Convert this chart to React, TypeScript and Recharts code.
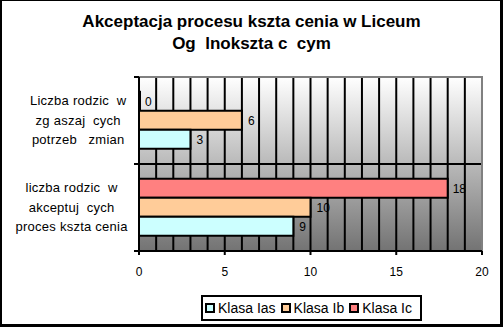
import React from 'react';
import { BarChart, Bar, XAxis, YAxis, CartesianGrid, LabelList, Legend, ReferenceArea } from 'recharts';

const categories = [
  'Liczba rodzic  w\nzg aszaj  cych\npotrzeb   zmian',
  'liczba rodzic  w\nakceptuj  cych\nproces kszta cenia',
];
const klasaIas = [3, 9];
const klasaIb = [6, 10];
const klasaIc = [0, 18];
const seriesNames = ['Klasa Ias', 'Klasa Ib', 'Klasa Ic'];
const seriesColors = ['#CCFFFF', '#FFCC99', '#FF8080'];
const xTicks = [0, 5, 10, 15, 20];
const gridTicks = [1, 2, 3, 4, 5, 6, 7, 8, 9, 10, 11, 12, 13, 14, 15, 16, 17, 18, 19];
const titleLines = ['Akceptacja procesu kszta cenia w Liceum', 'Og  lnokszta c  cym'];

const data = categories.map((c, i) => ({ name: c, ias: klasaIas[i], ib: klasaIb[i], ic: klasaIc[i] }));

const FONT = '"Liberation Sans", Arial, sans-serif';

const YTick = (props: any) => {
  const { x, y, payload, height, visibleTicksCount, index } = props;
  const lines: string[] = String(payload.value).split('\n');
  const maxLen = Math.max(...lines.map((l) => l.length));
  const cx = x - (maxLen * 6.6) / 2;
  const lh = 19.5;
  const axisX = x + 8;
  const band = height && visibleTicksCount ? height / visibleTicksCount : 0;
  const marks: number[] = [];
  if (band) {
    marks.push(y - band / 2);
    if (index === visibleTicksCount - 1) marks.push(y + band / 2);
  }
  return (
    <g>
      {marks.map((my, i) => (
        <line key={'m' + i} x1={axisX - 5} x2={axisX} y1={my} y2={my} stroke="#000" strokeWidth={2} />
      ))}
      {lines.map((l, i) => (
        <text
          key={i}
          x={cx}
          y={y + (i - (lines.length - 1) / 2) * lh}
          dy={4}
          textAnchor="middle"
          fontSize={13}
          fontFamily={FONT}
          fill="#000"
          letterSpacing={0.25}
          style={{ whiteSpace: 'pre' }}
        >
          {l}
        </text>
      ))}
    </g>
  );
};

const LegendContent = () => (
  <div
    style={{
      boxSizing: 'border-box',
      width: 221,
      height: 26,
      border: '2px solid #000',
      background: '#fff',
      display: 'flex',
      alignItems: 'center',
      paddingLeft: 2,
      fontFamily: FONT,
      fontSize: 14,
      color: '#000',
      whiteSpace: 'nowrap',
    }}
  >
    {seriesNames.map((n, i) => (
      <span key={n} style={{ display: 'flex', alignItems: 'center', marginRight: 5 }}>
        <span
          style={{
            display: 'inline-block',
            boxSizing: 'border-box',
            width: 10,
            height: 10,
            background: seriesColors[i],
            border: '2px solid #000',
            marginRight: 3,
          }}
        />
        {n}
      </span>
    ))}
  </div>
);

export default function App() {
  return (
    <div style={{ position: 'absolute', left: 0, top: 0, width: 503, height: 327, background: '#fff' }}>
      <BarChart
        width={503}
        height={327}
        data={data}
        layout="vertical"
        margin={{ top: 77, right: 21, bottom: 46, left: 0 }}
        barCategoryGap="17%"
        barGap={0}
      >
        <defs>
          <linearGradient id="plotBg" x1="0" y1="0" x2="0" y2="1">
            <stop offset="0%" stopColor="#FFFFFF" />
            <stop offset="100%" stopColor="#737373" />
          </linearGradient>
        </defs>
        <CartesianGrid
          fill="url(#plotBg)"
          stroke="#000"
          strokeWidth={2}
          strokeDasharray=""
          verticalCoordinatesGenerator={(p: any) => {
            const s = p?.xAxis?.scale;
            if (typeof s === 'function') return gridTicks.map((v) => s(v));
            if (s && typeof s.map === 'function') return gridTicks.map((v) => s.map(v));
            return gridTicks.map((v) => p.offset.left + (p.offset.width * v) / 20);
          }}
          horizontalCoordinatesGenerator={(p: any) => [p.offset.top + p.offset.height / 2]}
        />
        <ReferenceArea x1={0} x2={20} fill="none" stroke="#808080" strokeWidth={2} ifOverflow="visible" />
        <XAxis
          type="number"
          domain={[0, 20]}
          ticks={xTicks}
          height={30}
          axisLine={{ stroke: '#000', strokeWidth: 2 }}
          tickLine={{ stroke: '#000', strokeWidth: 2 }}
          tickSize={4}
          tick={{ fontSize: 12, fontFamily: FONT, fill: '#000', dy: 10 }}
        />
        <YAxis
          type="category"
          dataKey="name"
          width={139}
          axisLine={{ stroke: '#000', strokeWidth: 2 }}
          tickLine={false}
          tick={<YTick />}
          interval={0}
        />
        <Bar dataKey="ic" name={seriesNames[2]} fill={seriesColors[2]} stroke="#000" strokeWidth={2} minPointSize={1} isAnimationActive={false}>
          <LabelList dataKey="ic" position="right" offset={5} fontSize={12} fontFamily={FONT} fill="#000" />
        </Bar>
        <Bar dataKey="ib" name={seriesNames[1]} fill={seriesColors[1]} stroke="#000" strokeWidth={2} isAnimationActive={false}>
          <LabelList dataKey="ib" position="right" offset={6} fontSize={12} fontFamily={FONT} fill="#000" />
        </Bar>
        <Bar dataKey="ias" name={seriesNames[0]} fill={seriesColors[0]} stroke="#000" strokeWidth={2} isAnimationActive={false}>
          <LabelList dataKey="ias" position="right" offset={6} fontSize={12} fontFamily={FONT} fill="#000" />
        </Bar>
        <Legend
          layout="horizontal"
          verticalAlign="middle"
          align="center"
          content={<LegendContent />}
          wrapperStyle={{ position: 'absolute', left: 201, top: 295, width: 221, height: 26, margin: 0 }}
        />
      </BarChart>
      <div
        style={{
          position: 'absolute',
          left: 0,
          top: 11,
          width: 503,
          textAlign: 'center',
          fontFamily: FONT,
          fontWeight: 'bold',
          fontSize: 17,
          lineHeight: '22px',
          color: '#000',
          whiteSpace: 'pre',
        }}
      >
        {titleLines.map((t) => (
          <div key={t}>{t}</div>
        ))}
      </div>
      <div
        style={{
          position: 'absolute',
          left: 0,
          top: 0,
          width: 503,
          height: 327,
          boxSizing: 'border-box',
          borderTop: '1px solid #000',
          borderLeft: '2px solid #000',
          borderRight: '3px solid #000',
          borderBottom: '3px solid #000',
          pointerEvents: 'none',
        }}
      />
    </div>
  );
}
